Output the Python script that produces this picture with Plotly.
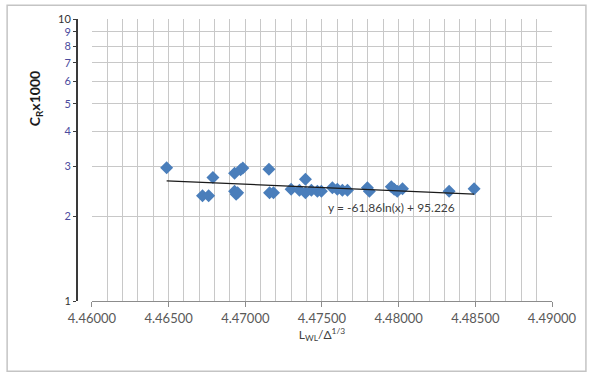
import plotly.graph_objects as go
import numpy as np

# data
x_vals = [4.46487, 4.46721, 4.46761, 4.46789, 4.46930, 4.46969, 4.46984, 4.46930,
          4.46940, 4.46950, 4.47154, 4.47158, 4.47184, 4.47299, 4.47392, 4.47353,
          4.47392, 4.47431, 4.47470, 4.47496, 4.47568, 4.47600, 4.47633, 4.47666,
          4.47796, 4.47809, 4.47952, 4.47971, 4.47991, 4.48025, 4.48329, 4.48492]
y_vals = [2.97, 2.36, 2.36, 2.74, 2.84, 2.92, 2.96, 2.45,
          2.39, 2.42, 2.93, 2.42, 2.42, 2.49, 2.70, 2.47,
          2.42, 2.47, 2.45, 2.45, 2.52, 2.49, 2.47, 2.47,
          2.52, 2.45, 2.54, 2.49, 2.45, 2.50, 2.45, 2.50]

# trendline coefficients shown on the chart
trend_a = -61.86
trend_b = 95.226
trend_label = "y = -61.86ln(x) + 95.226"

x_ticks = [4.46, 4.465, 4.47, 4.475, 4.48, 4.485, 4.49]
y_ticks = [1, 2, 3, 4, 5, 6, 7, 8, 9, 10]

W, H = 589, 376
L, R, T, B = 70, 36, 16, 75
pw, ph = W - L - R, H - T - B

def px(xp):
    return (xp - L) / pw

def py(yp):
    return (H - B - yp) / ph

tx = np.linspace(min(x_vals), max(x_vals), 30)
ty = trend_a * np.log(tx) + trend_b

fig = go.Figure()
fig.add_trace(go.Scatter(x=x_vals, y=y_vals, mode="markers",
                         marker=dict(symbol="diamond", size=10, color="#4A7EBB"),
                         showlegend=False))
fig.add_trace(go.Scatter(x=tx, y=ty, mode="lines",
                         line=dict(color="#1a1a1a", width=1.3), showlegend=False))
# invisible trace to carry the displaced y axis
fig.add_trace(go.Scatter(x=[x_ticks[0]], y=[y_ticks[0]], yaxis="y2", mode="markers",
                         marker=dict(opacity=0), showlegend=False, hoverinfo="skip"))

def ytext(v):
    c = "#333333" if v in (1, 10) else "#4B4B9E"
    return f'<span style="color:{c}">{v}</span>'

fig.update_layout(
    width=W, height=H,
    margin=dict(l=L, r=R, t=T, b=B),
    paper_bgcolor="white", plot_bgcolor="white",
    font=dict(family="Lato", size=12, color="#404040"),
    xaxis=dict(domain=[px(92), 1], range=[4.46, 4.49],
               tickvals=x_ticks, ticktext=[f"{v:.5f}" for v in x_ticks],
               showgrid=True, gridcolor="#c8c8c8", gridwidth=1,
               minor=dict(dtick=0.001, showgrid=True, gridcolor="#c8c8c8", gridwidth=1),
               showline=True, linecolor="#8c8c8c", linewidth=1,
               ticks="outside", ticklen=5, tickcolor="#8c8c8c",
               tickfont=dict(size=13, color="#595959"),
               zeroline=False,
               title=dict(text="L<sub>WL</sub>/Δ<sup>1/3</sup>", standoff=4,
                          font=dict(size=12, color="#404040"))),
    yaxis=dict(type="log", range=[0, 1],
               tickvals=y_ticks, showticklabels=False,
               showgrid=True, gridcolor="#c8c8c8", gridwidth=1,
               showline=False, ticks="", zeroline=False),
    yaxis2=dict(type="log", range=[0, 1], overlaying="y", anchor="free", position=px(77),
                side="left",
                tickvals=y_ticks, ticktext=[ytext(v) for v in y_ticks],
                showgrid=False,
                showline=True, linecolor="#3a3a3a", linewidth=2,
                ticks="outside", ticklen=3, tickcolor="#3a3a3a",
                tickfont=dict(size=11), zeroline=False),
    annotations=[
        dict(text="<b>C<sub>R</sub>x1000</b>", textangle=-90, xref="paper", yref="paper",
             x=px(35), y=py(97), showarrow=False,
             font=dict(size=14, color="#1a1a1a", family="Lato"),
             xanchor="center", yanchor="middle"),
        dict(text=trend_label, xref="paper", yref="paper",
             x=px(392), y=py(206), showarrow=False,
             font=dict(size=12, color="#404040"), xanchor="center", yanchor="middle"),
    ],
    shapes=[dict(type="rect", xref="paper", yref="paper",
                 x0=px(7), x1=px(587), y0=py(372), y1=py(2),
                 line=dict(color="#c4c4c4", width=1.5), layer="below")],
)
fig.write_html("out.html")
